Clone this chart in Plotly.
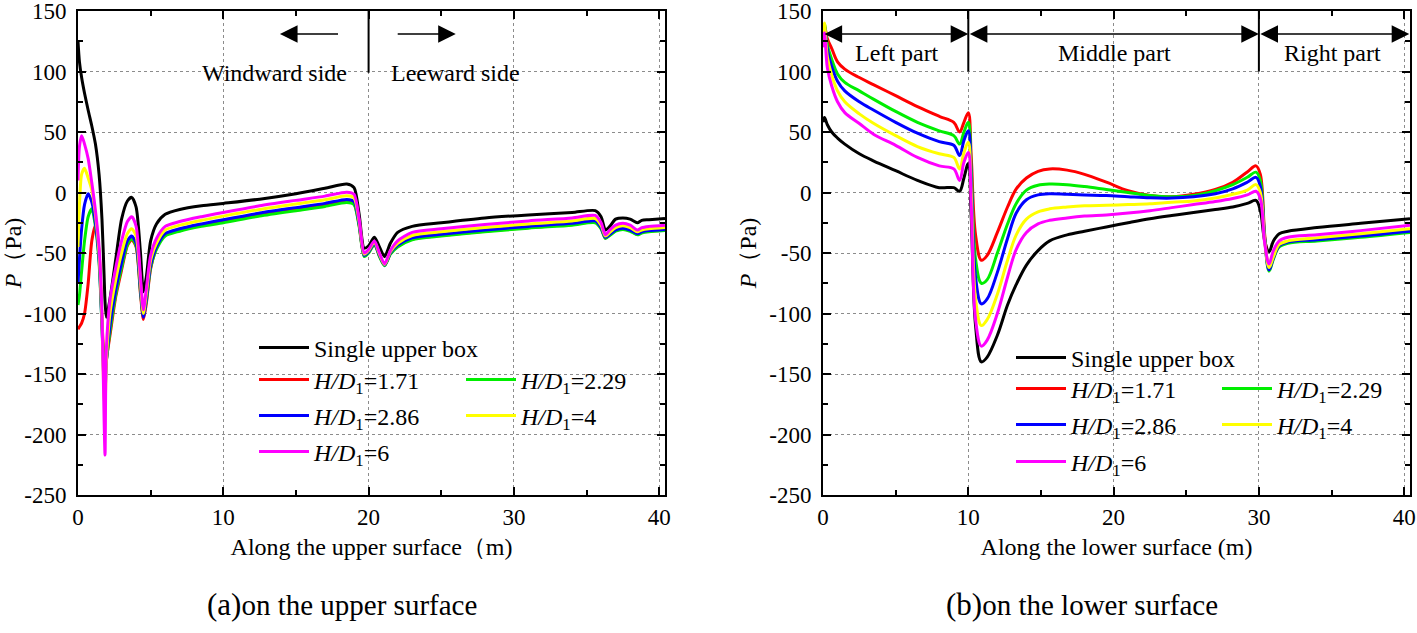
import plotly.graph_objects as go

# ---------------- data: upper surface (panel a) ----------------
x_upper = [0, 0.1, 0.25, 0.45, 0.7, 0.95, 1.2, 1.45, 1.65, 1.8, 1.86, 1.95, 2.2, 2.6, 3.0,
           3.4, 3.7, 4.0, 4.3, 4.5, 4.7, 5.0, 5.4, 6.0, 7.0, 8.5, 10, 12.5, 15, 17,
           18.5, 19.0, 19.35, 19.7, 20.0, 20.4, 20.75, 21.1, 21.5, 22.0, 23.0, 25, 28, 31,
           34, 35.6, 36.0, 36.3, 36.6, 37.0, 37.5, 38.0, 38.5, 38.8, 39.3, 40.4]

p_upper_single = [125, 108, 95, 82, 68, 55, 40, 15, -22, -70, -90, -103, -88, -55, -22,
                  -7, -4, -12, -50, -82, -70, -40, -26, -18, -14, -11, -9, -5.5, -1, 3.5,
                  7, 4, -18, -46, -44, -37, -45, -53, -42, -33, -28, -25, -21, -18.5,
                  -16.5, -15, -20, -31, -28, -22, -21, -22, -25, -23, -22.5, -21.5]
p_upper_171 = [-113, -111, -108, -100, -75, -40, -27, -50, -105, -140, -145, -138, -118, -86, -64,
               -44, -39, -45, -84, -105, -92, -63, -46, -35, -31, -27, -24, -18.5, -14, -10.5,
               -7.5, -9.5, -27, -52.5, -49.5, -42.5, -52.5, -60, -50.5, -44.5, -38.5, -35.5, -32, -29,
               -26.5, -24.5, -29.5, -37.5, -35, -31.5, -30, -31.5, -34.5, -33, -32, -31]
p_upper_229 = [-93, -85, -65, -40, -20, -13.5, -28, -58, -110, -150, -155, -140, -115, -84, -62,
               -43, -38, -44, -82, -102, -90, -62, -47, -36, -32, -28, -25, -19.5, -15, -11.5,
               -8.2, -10, -28, -53, -50, -43, -53, -60.5, -51, -45, -39, -36, -32.5, -29.5,
               -27, -25, -30, -38, -35.5, -32, -30.5, -32, -35, -33.5, -32.5, -31.5]
p_upper_286 = [-75, -55, -30, -10, -1, -8, -25, -55, -110, -160, -165, -140, -110, -80, -58,
               -40, -36, -42, -80, -103, -88, -60, -45, -34, -30, -26, -22.5, -17, -12.5, -9,
               -5.7, -7.5, -26, -52, -49, -42, -52, -60, -50, -43.5, -37.5, -34.5, -31, -28,
               -25.5, -23.5, -29, -37, -34.5, -31, -29.5, -31, -34, -32.5, -31.5, -30.5]
p_upper_4 = [-45, -10, 15, 20, 12, 2, -18, -50, -105, -170, -175, -140, -100, -72, -50,
             -34, -30, -36, -75, -100, -84, -56, -42, -31, -27, -23, -19.5, -14, -9.5, -6,
             -2.7, -4.5, -24, -51, -48, -41, -51, -59.5, -49, -42, -35.5, -32.5, -29, -26,
             -23.5, -21.5, -27, -36, -33, -29, -27.5, -29, -32.5, -31, -30, -29]
p_upper_6 = [10, 38, 47, 40, 28, 8, -15, -45, -100, -190, -217, -130, -89, -62, -40,
             -24, -20, -28, -70, -97, -80, -52, -38, -28, -24, -20, -16.5, -11, -6.5, -3,
             0.3, -1.5, -22, -50, -47, -40, -50, -59, -48, -40, -33, -30, -26.5, -23.5,
             -21, -19, -25, -35, -31, -27, -25.5, -27, -31, -29, -28, -27]

# ---------------- data: lower surface (panel b) ----------------
x_lower = [0, 0.1, 0.3, 0.6, 1.0, 1.5, 2.5, 3.5, 5, 6.5, 8, 9.0, 9.4, 9.7, 10.0, 10.2, 10.5,
           10.9, 11.3, 12.0, 12.7, 13.3, 14.0, 14.8, 15.6, 16.8, 18, 19.5, 21, 22.5, 24,
           25.5, 27, 28.2, 29.2, 29.8, 30.1, 30.4, 30.7, 31.0, 31.4, 32.0, 34, 37, 40.4]

p_lower_single = [58, 62, 56, 50, 45, 40, 32, 26, 18, 10, 4, 4, 1, 12, 24, -20, -110,
                  -140, -136, -118, -93, -76, -60, -48, -40, -35, -32, -28.5, -25, -21.7, -19,
                  -16.5, -14, -12, -9, -6.6, -15, -40, -49, -40, -34, -32, -29, -25.5, -21.7]
p_lower_171 = [130, 138, 127, 119, 108, 102, 95, 89, 80, 71, 63, 58, 50, 58, 66, 30, -35,
               -56, -52, -33, -12, 3, 12, 17.5, 19.5, 18.5, 15, 8.5, 1.5, -2.5, -3.5,
               -1.5, 2.5, 8.5, 17, 22, 15, -35, -63, -52, -43, -40.5, -38, -35, -31]
p_lower_229 = [130, 139, 122, 110, 98, 91, 84, 77, 67, 58, 51, 47, 40, 50, 58, 20, -55,
               -75, -72, -50, -26, -9, 2, 6, 7, 6.5, 5, 2.5, 0, -2.5, -3.5,
               -2.5, 1.5, 6.5, 12.6, 16.8, 10, -38, -65, -55, -45, -42, -40, -37, -33]
p_lower_286 = [128, 137, 118, 104, 92, 84, 75, 68, 58, 49, 42, 39, 30.5, 43, 51, 10, -70,
               -92, -88, -66, -38, -17, -6, -2, -1, -1.5, -2, -2.5, -3.5, -4.4, -4.6,
               -3.5, -1, 3, 8.5, 12.5, 5, -38, -64, -54, -44, -41, -39, -36, -32]
p_lower_4 = [125, 140, 112, 97, 84, 75, 65, 57, 47, 38, 32, 29, 19.5, 33, 41.5, 0, -88,
             -110, -105, -84, -56, -35, -22, -16, -13.5, -12, -11, -10.5, -10, -9.4, -8,
             -7, -4.5, -1.5, 2, 6.5, 0, -40, -62, -53, -43, -40, -37.5, -34, -30]
p_lower_6 = [120, 132, 103, 88, 75, 66, 57, 48, 39, 29, 22, 19.5, 10, 25, 33, -10, -105,
             -127, -122, -100, -70, -47, -33, -26, -23, -21, -19.5, -18.5, -17, -15, -12.5,
             -10, -7.5, -5, -2, 1, -5, -42, -59, -48, -40, -37, -35, -31.5, -27]

series_names = ["Single upper box", "<i>H/D</i><sub>1</sub>=1.71", "<i>H/D</i><sub>1</sub>=2.29",
                "<i>H/D</i><sub>1</sub>=2.86", "<i>H/D</i><sub>1</sub>=4", "<i>H/D</i><sub>1</sub>=6"]
upper_series = [p_upper_single, p_upper_171, p_upper_229, p_upper_286, p_upper_4, p_upper_6]
lower_series = [p_lower_single, p_lower_171, p_lower_229, p_lower_286, p_lower_4, p_lower_6]
colors = ["#000000", "#FF0000", "#00EE00", "#0000FF", "#FFFF00", "#FF00FF"]

x_ticks = [0, 10, 20, 30, 40]
y_ticks = [150, 100, 50, 0, -50, -100, -150, -200, -250]
y_tick_text = ["150", "100", "50", "0", "-50", "-100", "-150", "-200", "-250"]

# ---------------- figure geometry ----------------
W, H = 1417, 633
ML, MR, MT, MB = 78, 7, 11, 138
PW, PH = W - ML - MR, H - MT - MB


def px2paper(px, py):
    return (px - ML) / PW, 1 - (py - MT) / PH


FONT = "Liberation Serif"
fig = go.Figure()

# legend positions (pixel, line start / row center) for each series, per panel
leg_pos_upper = [(260, 348), (260, 380), (467, 380), (260, 416), (467, 416), (260, 452)]
leg_pos_lower = [(1017, 358), (1017, 389), (1223, 389), (1017, 425), (1223, 425), (1017, 462)]

legends = {}
for i in range(6):
    for panel, (xs, ys_list, pos, xa, ya, offs, sm) in enumerate([
            (x_upper, upper_series, leg_pos_upper, "x", "y", 0, 0.7),
            (x_lower, lower_series, leg_pos_lower, "x2", "y2", 6, 1.0)]):
        lname = "legend" if (i + offs) == 0 else f"legend{i + offs + 1}"
        fig.add_trace(go.Scatter(
            x=xs, y=ys_list[i], mode="lines", name=series_names[i],
            line=dict(color=colors[i], width=3, shape="spline", smoothing=sm),
            xaxis=xa, yaxis=ya, legend=lname, showlegend=True))
        lx, ly = px2paper(pos[i][0] - 6, pos[i][1])
        legends[lname] = dict(
            x=lx, y=ly, xanchor="left", yanchor="middle",
            bgcolor="rgba(0,0,0,0)", borderwidth=0, itemwidth=50,
            font=dict(family=FONT, size=24, color="black"))


def make_axis(**kw):
    d = dict(
        showline=True, linecolor="black", linewidth=2, mirror="ticks",
        ticks="inside", ticklen=8, tickwidth=2, tickcolor="black",
        showgrid=True, gridcolor="#8c8c8c", griddash="dot", gridwidth=1,
        zeroline=False, automargin=False, ticklabeloverflow="allow",
        tickfont=dict(family=FONT, size=23, color="black"),
    )
    d.update(kw)
    return d


xdomL = [0, (665 - ML) / PW]
xdomR = [(823 - ML) / PW, 1]

fig.update_layout(
    width=W, height=H, margin=dict(l=ML, r=MR, t=MT, b=MB, autoexpand=False),
    paper_bgcolor="white", plot_bgcolor="white",
    font=dict(family=FONT, size=23, color="black"),
    xaxis=make_axis(domain=xdomL, range=[0, 40.4], tickvals=x_ticks, anchor="y",
                    minor=dict(dtick=5, ticks="inside", ticklen=5, tickcolor="black", tickwidth=2),
                    title=dict(text="Along the upper surface（m)", font=dict(family=FONT, size=24), standoff=10)),
    yaxis=make_axis(domain=[0, 1], range=[-250, 150], tickvals=y_ticks, ticktext=y_tick_text, anchor="x",
                    ticklabelstandoff=5,
                    minor=dict(dtick=25, ticks="inside", ticklen=5, tickcolor="black", tickwidth=2),
                    title=dict(text="<i>P</i>（Pa)", font=dict(family=FONT, size=24), standoff=6)),
    xaxis2=make_axis(domain=xdomR, range=[0, 40.4], tickvals=x_ticks, anchor="y2",
                     minor=dict(dtick=5, ticks="inside", ticklen=5, tickcolor="black", tickwidth=2),
                     title=dict(text="Along the lower surface (m)", font=dict(family=FONT, size=24), standoff=10)),
    yaxis2=make_axis(domain=[0, 1], range=[-250, 150], tickvals=y_ticks, ticktext=y_tick_text, anchor="x2",
                     ticklabelstandoff=5,
                     minor=dict(dtick=25, ticks="inside", ticklen=5, tickcolor="black", tickwidth=2),
                     title=dict(text="<i>P</i>（Pa)", font=dict(family=FONT, size=24), standoff=6)),
    **legends,
)

# ---------------- annotations & shapes ----------------
TXT = dict(family=FONT, size=24, color="black")
ann = []
arrow_style = dict(showarrow=True, arrowhead=2, arrowsize=2.2, arrowwidth=1.6,
                   arrowcolor="black", text="", standoff=0, startstandoff=0)
# panel a
ann.append(dict(xref="x", yref="y", axref="x", ayref="y", x=13.9, y=131, ax=18.0, ay=131, **arrow_style))
ann.append(dict(xref="x", yref="y", axref="x", ayref="y", x=26.0, y=131, ax=21.9, ay=131, **arrow_style))
ann.append(dict(xref="x", yref="y", x=13.5, y=99, text="Windward side", showarrow=False, font=TXT,
                xanchor="center", yanchor="middle"))
ann.append(dict(xref="x", yref="y", x=26.0, y=99, text="Leeward side", showarrow=False, font=TXT,
                xanchor="center", yanchor="middle"))
# panel b
for (a, b) in [(0, 10), (10, 30), (30, 40.35)]:
    ann.append(dict(xref="x2", yref="y2", axref="x2", ayref="y2", x=b, y=131, ax=a, ay=131,
                    arrowside="end+start", **arrow_style))
for txt, xc in [("Left part", 5.07), ("Middle part", 20.07), ("Right part", 35.07)]:
    ann.append(dict(xref="x2", yref="y2", x=xc, y=115.7, text=txt, showarrow=False, font=TXT,
                    xanchor="center", yanchor="middle"))
# captions
cx_a, cy_a = px2paper(342, 604)
cx_b, cy_b = px2paper(1082, 604)
ann.append(dict(xref="paper", yref="paper", x=cx_a, y=cy_a, showarrow=False,
                xanchor="center", yanchor="middle",
                text="<span style='font-size:31px'>(a)</span>on the upper surface",
                font=dict(family=FONT, size=29, color="black")))
ann.append(dict(xref="paper", yref="paper", x=cx_b, y=cy_b, showarrow=False,
                xanchor="center", yanchor="middle",
                text="<span style='font-size:31px'>(b)</span>on the lower surface",
                font=dict(family=FONT, size=29, color="black")))
fig.update_layout(annotations=ann)

shapes = [
    dict(type="line", xref="x", yref="y", x0=20, x1=20, y0=150, y1=99, line=dict(color="black", width=2)),
    dict(type="line", xref="x2", yref="y2", x0=10, x1=10, y0=150, y1=100, line=dict(color="black", width=2)),
    dict(type="line", xref="x2", yref="y2", x0=30, x1=30, y0=150, y1=100, line=dict(color="black", width=2)),
]
fig.update_layout(shapes=shapes)

fig.write_html("out.html", config={"displayModeBar": False},
               post_script="document.body.style.margin='0';")
